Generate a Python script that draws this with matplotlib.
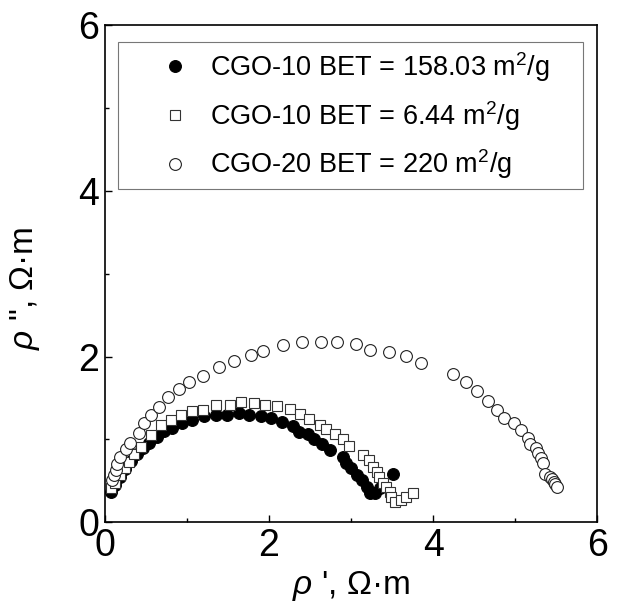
import matplotlib
matplotlib.use("Agg")
import matplotlib.pyplot as plt

plt.rcParams['font.family'] = ['Liberation Sans', 'DejaVu Sans']
plt.rcParams['mathtext.fontset'] = 'custom'
plt.rcParams['mathtext.rm'] = 'Liberation Sans'
plt.rcParams['mathtext.it'] = 'Liberation Sans:italic'

# CGO-10 BET = 158.03 m2/g (filled circles)
x_a = [0.08, 0.12, 0.18, 0.25, 0.32, 0.39, 0.47, 0.54, 0.63, 0.72, 0.82, 0.94, 1.06,
       1.21, 1.36, 1.49, 1.64, 1.76, 1.90, 2.03, 2.16, 2.29, 2.37, 2.47, 2.55, 2.65,
       2.74, 2.90, 2.94, 3.00, 3.07, 3.13, 3.19, 3.23, 3.29, 3.35, 3.51]
y_a = [0.37, 0.45, 0.55, 0.64, 0.74, 0.82, 0.90, 0.96, 1.03, 1.10, 1.14, 1.20, 1.24,
       1.28, 1.29, 1.30, 1.32, 1.30, 1.28, 1.26, 1.21, 1.16, 1.09, 1.06, 1.00, 0.94,
       0.87, 0.79, 0.72, 0.66, 0.57, 0.51, 0.43, 0.35, 0.35, 0.41, 0.58]

# CGO-10 BET = 6.44 m2/g (open squares)
x_b = [0.08, 0.12, 0.18, 0.24, 0.29, 0.36, 0.44, 0.56, 0.68, 0.80, 0.93, 1.06, 1.19,
       1.36, 1.52, 1.66, 1.82, 1.95, 2.10, 2.25, 2.38, 2.49, 2.62, 2.70, 2.81, 2.90,
       2.98, 3.15, 3.22, 3.27, 3.31, 3.34, 3.39, 3.43, 3.47, 3.49, 3.53, 3.61, 3.67, 3.75]
y_b = [0.41, 0.48, 0.57, 0.65, 0.73, 0.82, 0.91, 1.05, 1.18, 1.24, 1.30, 1.34, 1.36,
       1.41, 1.42, 1.45, 1.44, 1.42, 1.40, 1.37, 1.31, 1.25, 1.18, 1.12, 1.06, 1.00,
       0.92, 0.81, 0.75, 0.67, 0.61, 0.55, 0.47, 0.43, 0.37, 0.30, 0.24, 0.27, 0.31, 0.35]

# CGO-20 BET = 220 m2/g (open circles)
x_c = [0.09, 0.11, 0.13, 0.15, 0.18, 0.26, 0.31, 0.42, 0.48, 0.56, 0.66, 0.77, 0.90,
       1.03, 1.20, 1.39, 1.57, 1.78, 1.93, 2.17, 2.40, 2.63, 2.83, 3.06, 3.23, 3.46,
       3.67, 3.85, 4.24, 4.40, 4.54, 4.67, 4.78, 4.86, 4.99, 5.07, 5.15, 5.18, 5.25,
       5.28, 5.31, 5.34, 5.36, 5.43, 5.45, 5.47, 5.49, 5.51]
y_c = [0.51, 0.57, 0.63, 0.70, 0.79, 0.88, 0.96, 1.08, 1.20, 1.29, 1.39, 1.51, 1.61,
       1.69, 1.76, 1.88, 1.95, 2.02, 2.07, 2.14, 2.18, 2.18, 2.17, 2.15, 2.08, 2.06,
       2.01, 1.92, 1.79, 1.69, 1.58, 1.46, 1.36, 1.26, 1.20, 1.11, 1.02, 0.95, 0.90,
       0.84, 0.78, 0.72, 0.58, 0.55, 0.52, 0.49, 0.46, 0.43]

LABELS = ['CGO-10 BET = 158.03 m$^2$/g',
          'CGO-10 BET = 6.44 m$^2$/g',
          'CGO-20 BET = 220 m$^2$/g']

fig = plt.figure(figsize=(6.17, 6.13), dpi=100)
ax = fig.add_axes([0.170, 0.148, 0.798, 0.811])

ax.plot(x_a, y_a, 'o', color='k', markersize=8.5, markeredgewidth=0.8, label=LABELS[0])
ax.plot(x_b, y_b, 's', markerfacecolor='white', markeredgecolor='#333333',
        markersize=7.5, markeredgewidth=0.8, label=LABELS[1])
ax.plot(x_c, y_c, 'o', markerfacecolor='white', markeredgecolor='#222222',
        markersize=8.5, markeredgewidth=0.8, label=LABELS[2])

ax.set_xlim(0, 6)
ax.set_ylim(0, 6)
ax.set_xticks([0, 2, 4, 6])
ax.set_yticks([0, 2, 4, 6])
ax.set_xticks([1, 3, 5], minor=True)
ax.set_yticks([1, 3, 5], minor=True)
ax.tick_params(axis='both', which='major', direction='in', length=5, width=1,
               labelsize=27, pad=4)
ax.tick_params(axis='both', which='minor', direction='in', length=3, width=1)
for s in ax.spines.values():
    s.set_linewidth(1.2)

ax.set_xlabel("$\\it{\\rho}$ ', \u03a9\u00b7m", fontsize=24, labelpad=4)
ax.set_ylabel('$\\it{\\rho}$ ", \u03a9\u00b7m', fontsize=24)
ax.yaxis.set_label_coords(-0.128, 0.47)

leg = ax.legend(loc='upper left', bbox_to_anchor=(0.026, 0.67, 0.946, 0.296),
                mode='expand', numpoints=1, fancybox=False, framealpha=1,
                edgecolor='#777777', fontsize=19.5, handletextpad=-0.5,
                labelspacing=0.55, borderpad=0.3, handlelength=3.6,
                borderaxespad=0)
leg.get_frame().set_linewidth(0.8)

fig.savefig('out.png', dpi=100)
